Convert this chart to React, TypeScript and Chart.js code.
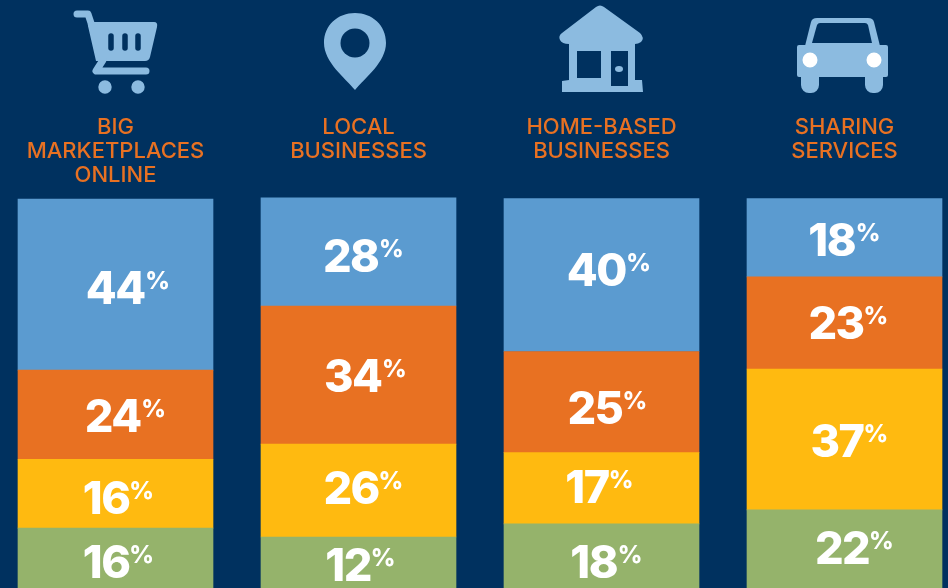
import React, { useEffect, useRef } from "react";
import { Chart, registerables } from "chart.js";

Chart.register(...registerables);

const categories = [
  ["BIG", "MARKETPLACES", "ONLINE"],
  ["LOCAL", "BUSINESSES", ""],
  ["HOME-BASED", "BUSINESSES", ""],
  ["SHARING", "SERVICES", ""],
];

// Printed percentages, per category
const printedBlue = [44, 28, 40, 18];
const printedOrange = [24, 34, 25, 23];
const printedYellow = [16, 26, 17, 37];
const printedGreen = [16, 12, 18, 22];

// Segment sizes as drawn in the picture (the graphic is not strictly proportional)
const drawnBlue = [44.0, 27.8, 39.3, 20.1];
const drawnOrange = [22.9, 35.5, 26.0, 23.7];
const drawnYellow = [17.7, 23.9, 18.3, 36.2];
const drawnGreen = [15.4, 13.1, 16.5, 20.1];

const NAVY = "#00315F";
const BLUE = "#5B9BD0";
const ORANGE = "#E87122";
const YELLOW = "#FFBA10";
const GREEN = "#95B36B";
const ICON = "#8CBBE0";
const FONT = "Inter";

// Label nudges from each segment's centre (same order as the datasets)
const nudgeGreen = [[-9, 4], [-10, 2.5], [-7, 6], [-2, -1]];
const nudgeYellow = [[-9, 4.5], [-7, -2.5], [-14, -1.5], [-7, 1.5]];
const nudgeOrange = [[-2, 1.5], [-5, 1], [-6, 5.5], [-8, 0]];
const nudgeBlue = [[1, 3.5], [-7, 4], [-4, -5.5], [-12, 2]];

function drawIcons(ctx: CanvasRenderingContext2D) {
  ctx.save();
  ctx.translate(6, 0);
  ctx.fillStyle = ICON;
  ctx.strokeStyle = ICON;
  ctx.lineCap = "round";
  ctx.lineJoin = "round";

  // Cart
  ctx.lineWidth = 7;
  ctx.beginPath();
  ctx.moveTo(77, 14);
  ctx.lineTo(88, 14);
  ctx.lineTo(92, 26);
  ctx.stroke();
  ctx.beginPath();
  ctx.moveTo(88, 26);
  ctx.quadraticCurveTo(87, 22, 91, 22);
  ctx.lineTo(154, 22);
  ctx.quadraticCurveTo(158, 22, 157, 27);
  ctx.lineTo(150, 57);
  ctx.quadraticCurveTo(149, 61, 145, 61);
  ctx.lineTo(96, 61);
  ctx.closePath();
  ctx.fill();
  ctx.lineWidth = 7;
  ctx.beginPath();
  ctx.moveTo(103, 60);
  ctx.lineTo(96, 71);
  ctx.lineTo(146, 71);
  ctx.stroke();
  ctx.beginPath();
  ctx.arc(105, 87, 6.7, 0, Math.PI * 2);
  ctx.arc(138, 87, 6.7, 0, Math.PI * 2);
  ctx.fill();
  ctx.strokeStyle = NAVY;
  ctx.lineWidth = 5.5;
  [111, 125, 138].forEach((x) => {
    ctx.beginPath();
    ctx.moveTo(x, 36);
    ctx.lineTo(x, 48);
    ctx.stroke();
  });

  // Pin
  ctx.beginPath();
  ctx.moveTo(355, 90);
  ctx.bezierCurveTo(345, 78, 324, 62, 324, 43);
  ctx.bezierCurveTo(324, 25, 338, 13, 355, 13);
  ctx.bezierCurveTo(372, 13, 386, 25, 386, 43);
  ctx.bezierCurveTo(386, 62, 365, 78, 355, 90);
  ctx.closePath();
  ctx.fill();
  ctx.fillStyle = NAVY;
  ctx.beginPath();
  ctx.arc(355, 43, 14.5, 0, Math.PI * 2);
  ctx.fill();
  ctx.fillStyle = ICON;

  // House
  ctx.beginPath();
  ctx.moveTo(596, 7);
  ctx.quadraticCurveTo(600, 4, 604, 7);
  ctx.lineTo(640, 33);
  ctx.quadraticCurveTo(645, 38, 641, 42);
  ctx.quadraticCurveTo(638, 44, 635, 44);
  ctx.lineTo(635, 80);
  ctx.lineTo(642, 80);
  ctx.lineTo(643, 92);
  ctx.lineTo(562, 92);
  ctx.lineTo(562, 81);
  ctx.lineTo(569, 80);
  ctx.lineTo(569, 44);
  ctx.quadraticCurveTo(562, 44, 560, 40);
  ctx.quadraticCurveTo(558, 36, 562, 33);
  ctx.closePath();
  ctx.fill();
  ctx.fillStyle = NAVY;
  ctx.fillRect(577, 51, 24, 27);
  ctx.fillRect(611, 51, 17, 35);
  ctx.fillStyle = ICON;
  ctx.beginPath();
  ctx.ellipse(619, 69, 4, 3, 0, 0, Math.PI * 2);
  ctx.fill();

  // Car
  ctx.beginPath();
  ctx.moveTo(805, 46);
  ctx.lineTo(811, 22);
  ctx.quadraticCurveTo(812, 18, 817, 18);
  ctx.lineTo(868, 18);
  ctx.quadraticCurveTo(873, 18, 874, 22);
  ctx.lineTo(880, 46);
  ctx.closePath();
  ctx.fill();
  ctx.beginPath();
  ctx.roundRect(797, 45, 91, 32, 2);
  ctx.fill();
  ctx.beginPath();
  ctx.roundRect(801, 70, 18, 23, [0, 0, 8, 8]);
  ctx.roundRect(865, 70, 18, 23, [0, 0, 8, 8]);
  ctx.fill();
  ctx.fillStyle = NAVY;
  ctx.beginPath();
  ctx.moveTo(812, 43);
  ctx.lineTo(817, 25);
  ctx.quadraticCurveTo(818, 23, 820, 23);
  ctx.lineTo(865, 23);
  ctx.quadraticCurveTo(867, 23, 868, 25);
  ctx.lineTo(872, 43);
  ctx.closePath();
  ctx.fill();
  ctx.fillStyle = "#FFFFFF";
  ctx.beginPath();
  ctx.arc(810, 60, 7.5, 0, Math.PI * 2);
  ctx.arc(874, 60, 7.5, 0, Math.PI * 2);
  ctx.fill();
  ctx.restore();
}

const datasetsInfo = [
  { label: "Green", drawn: drawnGreen, printed: printedGreen, nudge: nudgeGreen, color: GREEN },
  { label: "Yellow", drawn: drawnYellow, printed: printedYellow, nudge: nudgeYellow, color: YELLOW },
  { label: "Orange", drawn: drawnOrange, printed: printedOrange, nudge: nudgeOrange, color: ORANGE },
  { label: "Blue", drawn: drawnBlue, printed: printedBlue, nudge: nudgeBlue, color: BLUE },
];

const overlayPlugin = {
  id: "overlay",
  afterDraw(chart: any) {
    const ctx = chart.ctx as CanvasRenderingContext2D;
    drawIcons(ctx);
    ctx.save();
    ctx.fillStyle = "#FFFFFF";
    ctx.textBaseline = "alphabetic";
    ctx.textAlign = "left";
    datasetsInfo.forEach((info, di) => {
      const meta = chart.getDatasetMeta(di);
      meta.data.forEach((bar: any, i: number) => {
        const cx = bar.x + info.nudge[i][0];
        const cy = (bar.y + bar.base) / 2 + info.nudge[i][1];
        const digits = String(info.printed[i]);
        ctx.font = `800 45px ${FONT}`;
        (ctx as any).letterSpacing = "-1.5px";
        const m = ctx.measureText(digits);
        const inkW = m.actualBoundingBoxLeft + m.actualBoundingBoxRight;
        const x0 = cx - inkW / 2 + m.actualBoundingBoxLeft;
        const base = cy + 16;
        ctx.fillText(digits, x0, base);
        (ctx as any).letterSpacing = "0px";
        ctx.font = `800 24px ${FONT}`;
        ctx.fillText("%", cx + inkW / 2, base - 15);
      });
    });
    ctx.restore();
  },
};

export default function App() {
  const ref = useRef<HTMLCanvasElement>(null);
  useEffect(() => {
    document.body.style.margin = "0";
    document.body.style.background = NAVY;
    const chart = new Chart(ref.current!, {
      type: "bar",
      data: {
        labels: categories as any,
        datasets: datasetsInfo.map((d) => ({
          label: d.label,
          data: d.drawn,
          backgroundColor: d.color,
          borderWidth: 0,
          barThickness: 195,
          clip: false as any,
        })),
      },
      options: {
        animation: false,
        responsive: false,
        layout: { padding: 0 },
        plugins: { legend: { display: false }, tooltip: { enabled: false } },
        scales: {
          x: {
            stacked: true,
            position: "top",
            border: { display: false },
            grid: { display: false, drawTicks: false },
            afterFit: (s: any) => {
              s.height = 199;
            },
            ticks: {
              color: ORANGE,
              autoSkip: false,
              maxRotation: 0,
              padding: 12,
              font: { family: FONT, size: 22, weight: 500, lineHeight: "24px" as any },
            },
          },
          y: { stacked: true, display: false, min: 0, max: 100 },
        },
      },
      plugins: [overlayPlugin],
    });
    return () => chart.destroy();
  }, []);
  return (
    <div style={{ position: "fixed", left: 0, top: 0, width: 948, height: 588, overflow: "hidden", background: NAVY }}>
      <canvas ref={ref} width={972} height={588} style={{ position: "absolute", left: -6, top: 0, width: 972, height: 588 }} />
    </div>
  );
}
